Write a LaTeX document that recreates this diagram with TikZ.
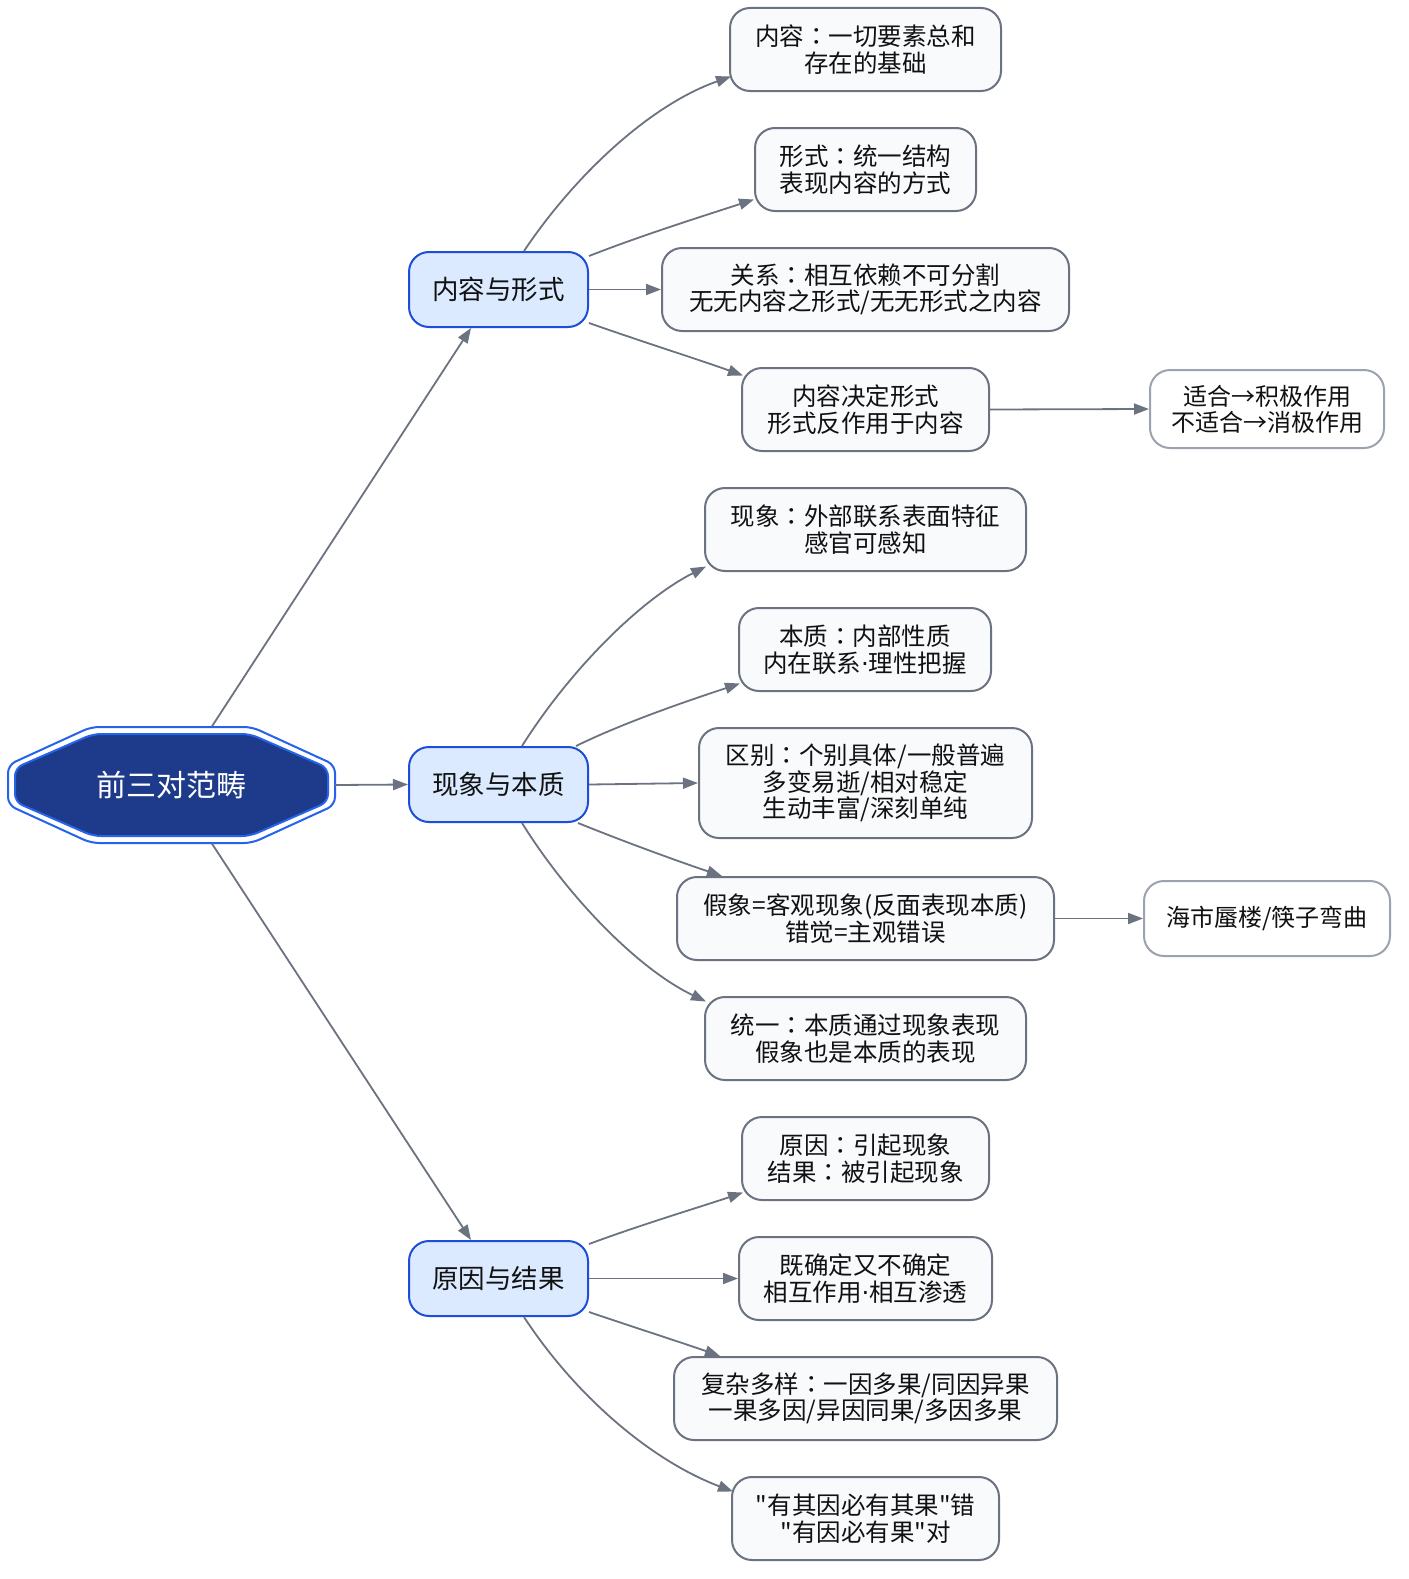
\documentclass[tikz,border=0pt]{standalone}
\usepackage{fontspec}
\newfontfamily\cjk{Noto Sans CJK SC}
\newfontfamily\cjktc{Noto Sans CJK TC}
\newfontfamily\dvs{DejaVu Sans}
\newcommand{\cc}{{\cjktc ：}}
\newcommand{\md}{{\dvs ·}}
\usetikzlibrary{arrows.meta}
\definecolor{edgegray}{HTML}{6B7280}
\definecolor{leafline}{HTML}{6B7280}
\definecolor{leaffill}{HTML}{F8FAFC}
\definecolor{thinline}{HTML}{9CA3AF}
\definecolor{midfill}{HTML}{DBEAFE}
\definecolor{midline}{HTML}{1D4ED8}
\definecolor{rootfill}{HTML}{1E3A8A}
\definecolor{rootline}{HTML}{2563EB}
\definecolor{txt}{HTML}{111111}
\tikzset{
  leaf/.style={draw=leafline, fill=leaffill, line width=2pt, rounded corners=20pt,
    inner sep=0pt, align=center, text=txt,
    font=\cjk\fontsize{24.5}{26.5}\selectfont},
  thin/.style={draw=thinline, fill=white, line width=2pt, rounded corners=20pt,
    inner sep=0pt, align=center, text=txt,
    font=\cjk\fontsize{24}{26}\selectfont},
  mid/.style={draw=midline, fill=midfill, line width=2pt, rounded corners=20pt,
    inner sep=0pt, align=center, text=txt, minimum width=179pt, minimum height=75pt,
    font=\cjk\fontsize{26.5}{28}\selectfont},
  link/.style={draw=edgegray, line width=1.8pt,
    -{Triangle[length=15pt,width=11pt]}}
}
\begin{document}
\begin{tikzpicture}[x=1pt,y=-1pt]
\useasboundingbox (0,0) rectangle (1408,1579);
\fill[white] (0,0) rectangle (1408,1579);

% root (double octagon)
\draw[rootline, line width=2pt, fill=white, rounded corners=8pt]
  (8,765) -- (91,727) -- (252,727) -- (335,765) -- (335,805) -- (252,843) -- (91,843) -- (8,805) -- cycle;
\draw[rootline, line width=2pt, fill=rootfill, rounded corners=8pt]
  (15,768) -- (93,734) -- (250,734) -- (328,768) -- (328,802) -- (250,836) -- (93,836) -- (15,802) -- cycle;
\node[minimum width=327pt, minimum height=117pt, inner sep=0pt, text=white,
  font=\cjk\fontsize{30}{32}\selectfont] (root) at (171.5,785) {前三对范畴};

% level 1
\node[mid] (A) at (498.5,289.5) {内容与形式};
\node[mid] (B) at (498.5,784.5) {现象与本质};
\node[mid] (C) at (498.5,1278.5) {原因与结果};

% leaves
\node[leaf, minimum width=271pt, minimum height=83pt] (L1) at (865.5,49.5) {内容\cc 一切要素总和\\存在的基础};
\node[leaf, minimum width=221pt, minimum height=83pt] (L2) at (865.5,169.5) {形式\cc 统一结构\\表现内容的方式};
\node[leaf, minimum width=407pt, minimum height=83pt] (L3) at (865.5,289.5) {关系\cc 相互依赖不可分割\\无无内容之形式/无无形式之内容};
\node[leaf, minimum width=247pt, minimum height=83pt] (L4) at (865.5,409.5) {内容决定形式\\形式反作用于内容};
\node[thin, minimum width=234pt, minimum height=78pt] (L5) at (1267,409) {适合→积极作用\\不适合→消极作用};

\node[leaf, minimum width=321pt, minimum height=83pt] (L6) at (865.5,529.5) {现象\cc 外部联系表面特征\\感官可感知};
\node[leaf, minimum width=252pt, minimum height=83pt] (L7) at (865,649.5) {本质\cc 内部性质\\内在联系\md 理性把握};
\node[leaf, minimum width=333pt, minimum height=110pt] (L8) at (865.5,783) {区别\cc 个别具体/一般普遍\\多变易逝/相对稳定\\生动丰富/深刻单纯};
\node[leaf, minimum width=377pt, minimum height=83pt] (L9) at (865.5,918.5) {假象=客观现象(反面表现本质)\\错觉=主观错误};
\node[thin, minimum width=246pt, minimum height=75pt] (L10) at (1267,918.5) {海市蜃楼/筷子弯曲};
\node[leaf, minimum width=321pt, minimum height=83pt] (L11) at (865.5,1038.5) {统一\cc 本质通过现象表现\\假象也是本质的表现};

\node[leaf, minimum width=247pt, minimum height=83pt] (L12) at (865.5,1158.5) {原因\cc 引起现象\\结果\cc 被引起现象};
\node[leaf, minimum width=253pt, minimum height=83pt] (L13) at (865.5,1278.5) {既确定又不确定\\相互作用\md 相互渗透};
\node[leaf, minimum width=383pt, minimum height=83pt] (L14) at (865.5,1398.5) {复杂多样\cc 一因多果/同因异果\\一果多因/异因同果/多因多果};
\node[leaf, minimum width=267pt, minimum height=83pt] (L15) at (865.5,1518.5) {"有其因必有其果"错\\"有因必有果"对};

% edges from root
\draw[link] ([xshift=40.5pt]root.north) -- ([xshift=-27.5pt]A.south);
\draw[link] (root.east) -- (B.west);
\draw[link] ([xshift=40.5pt]root.south) -- ([xshift=-27.5pt]C.north);

% edges from A
\draw[link] ([xshift=25.5pt]A.north) .. controls (575,175) and (650,105) .. ([xshift=2pt,yshift=-27pt]L1.west);
\draw[link] ([yshift=33.5pt]A.east) .. controls (640,236) and (700,217) .. ([yshift=-30pt]L2.west);
\draw[link] (A.east) -- (L3.west);
\draw[link] ([yshift=-33.5pt]A.east) .. controls (640,341) and (700,360) .. ([xshift=2pt,yshift=34pt]L4.west);
\draw[link] (L4.east) -- (L5.west);

% edges from B
\draw[link] ([xshift=23.5pt]B.north) .. controls (570,670) and (640,600) .. ([xshift=2pt,yshift=-37pt]L6.west);
\draw[link] ([xshift=77.5pt]B.north) .. controls (625,722) and (690,700) .. ([xshift=2pt,yshift=-34pt]L7.west);
\draw[link] (B.east) -- (L8.west);
\draw[link] ([xshift=79.5pt]B.south) .. controls (625,842) and (680,862) .. ([xshift=-143.5pt]L9.north);
\draw[link] (L9.east) -- (L10.west);
\draw[link] ([xshift=23.5pt]B.south) .. controls (570,900) and (640,970) .. ([xshift=2pt,yshift=37pt]L11.west);

% edges from C
\draw[link] ([yshift=34.5pt]C.east) .. controls (640,1225) and (700,1207) .. ([xshift=2pt,yshift=-34pt]L12.west);
\draw[link] (C.east) -- (L13.west);
\draw[link] ([yshift=-33.5pt]C.east) .. controls (630,1326) and (680,1342) .. ([xshift=-145.5pt]L14.north);
\draw[link] ([xshift=25.5pt]C.south) .. controls (575,1395) and (650,1460) .. ([xshift=2pt,yshift=27pt]L15.west);
\end{tikzpicture}
\end{document}
